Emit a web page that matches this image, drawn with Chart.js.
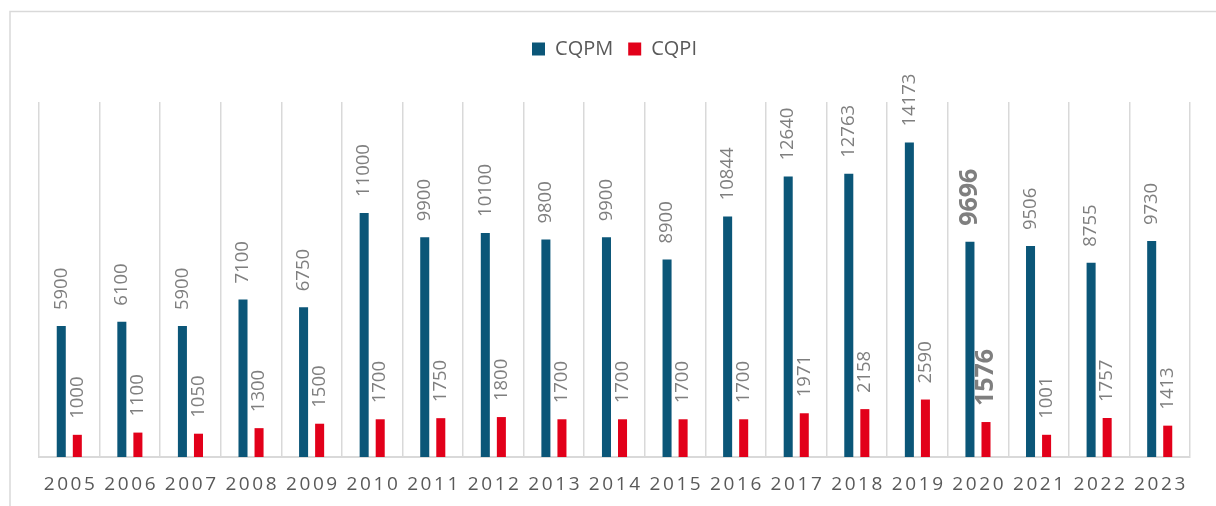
<!DOCTYPE html>
<html>
<head>
<meta charset="utf-8">
<script src="https://cdn.jsdelivr.net/npm/chart.js@4/dist/chart.umd.min.js"></script>
<style>
  html, body { margin: 0; padding: 0; background: #ffffff; }
  #wrap { width: 1216px; height: 506px; }
</style>
</head>
<body>
<div id="wrap"><canvas id="c" width="1216" height="506"></canvas></div>
<script>
const years = ['2005','2006','2007','2008','2009','2010','2011','2012','2013','2014','2015','2016','2017','2018','2019','2020','2021','2022','2023'];
const cqpm = [5900, 6100, 5900, 7100, 6750, 11000, 9900, 10100, 9800, 9900, 8900, 10844, 12640, 12763, 14173, 9696, 9506, 8755, 9730];
const cqpi = [1000, 1100, 1050, 1300, 1500, 1700, 1750, 1800, 1700, 1700, 1700, 1700, 1971, 2158, 2590, 1576, 1001, 1757, 1413];
const highlightYears = ['2020'];

const FONT = "'Open Sans', 'DejaVu Sans', sans-serif";

const framePlugin = {
  id: 'frame',
  beforeDraw(chart) {
    const ctx = chart.ctx;
    ctx.save();
    ctx.strokeStyle = '#D9D9D9';
    ctx.lineWidth = 1.5;
    ctx.strokeRect(10, 11.5, 1600, 1000);
    ctx.restore();
  }
};

const legendGapPlugin = {
  id: 'legendGap',
  beforeLayout(chart) {
    const lg = chart.legend;
    if (lg && !lg._gapWrapped) {
      const f = lg.fit;
      lg.fit = function () {
        f.call(this);
        this.height += 33;
      };
      lg._gapWrapped = true;
    }
  }
};

const spacedTicksPlugin = {
  id: 'spacedTicks',
  afterLayout(chart) {
    const sc = chart.scales.x;
    if (sc && !sc._spaced) {
      const orig = sc.drawLabels;
      sc.drawLabels = function (area) {
        const ctx = this.ctx;
        ctx.save();
        ctx.letterSpacing = '2.6px';
        ctx.translate(1.3, 0);
        orig.call(this, area);
        ctx.restore();
      };
      sc._spaced = true;
    }
  }
};

const valueLabelsPlugin = {
  id: 'valueLabels',
  afterDatasetsDraw(chart) {
    const ctx = chart.ctx;
    chart.data.datasets.forEach((ds, i) => {
      const meta = chart.getDatasetMeta(i);
      meta.data.forEach((bar, j) => {
        const bold = highlightYears.includes(chart.data.labels[j]);
        ctx.save();
        ctx.translate(bar.x, bar.y - 16);
        ctx.rotate(-Math.PI / 2);
        ctx.textAlign = 'left';
        ctx.textBaseline = 'middle';
        ctx.fillStyle = '#7F7F7F';
        ctx.font = (bold ? 'bold 25px ' : '18.5px ') + FONT;
        ctx.fillText(String(ds.data[j]), 0, 0);
        ctx.restore();
      });
    });
  }
};

new Chart(document.getElementById('c'), {
  type: 'bar',
  data: {
    labels: years,
    datasets: [
      { label: 'CQPM', data: cqpm, backgroundColor: '#0B5678', categoryPercentage: 0.53, barPercentage: 0.5625 },
      { label: 'CQPI', data: cqpi, backgroundColor: '#E2001A', categoryPercentage: 0.53, barPercentage: 0.5625 }
    ]
  },
  options: {
    responsive: false,
    devicePixelRatio: 1,
    animation: false,
    layout: { padding: { left: 39, right: 26, top: 24, bottom: 0 } },
    plugins: {
      tooltip: { enabled: false },
      legend: {
        display: true,
        position: 'top',
        labels: {
          boxWidth: 13,
          boxHeight: 13,
          padding: 15,
          color: '#595959',
          font: { family: FONT, size: 20 }
        }
      }
    },
    scales: {
      x: {
        grid: { display: true, offset: true, color: '#D9D9D9', lineWidth: 1.5, drawTicks: false },
        border: { display: true, color: '#D9D9D9', width: 2 },
        ticks: { color: '#595959', font: { family: FONT, size: 19 }, padding: 16, maxRotation: 0, autoSkip: false },
        afterFit(scale) { scale.height = 49; }
      },
      y: {
        display: false,
        min: 0,
        max: 16000
      }
    }
  },
  plugins: [framePlugin, legendGapPlugin, spacedTicksPlugin, valueLabelsPlugin]
});
</script>
</body>
</html>
